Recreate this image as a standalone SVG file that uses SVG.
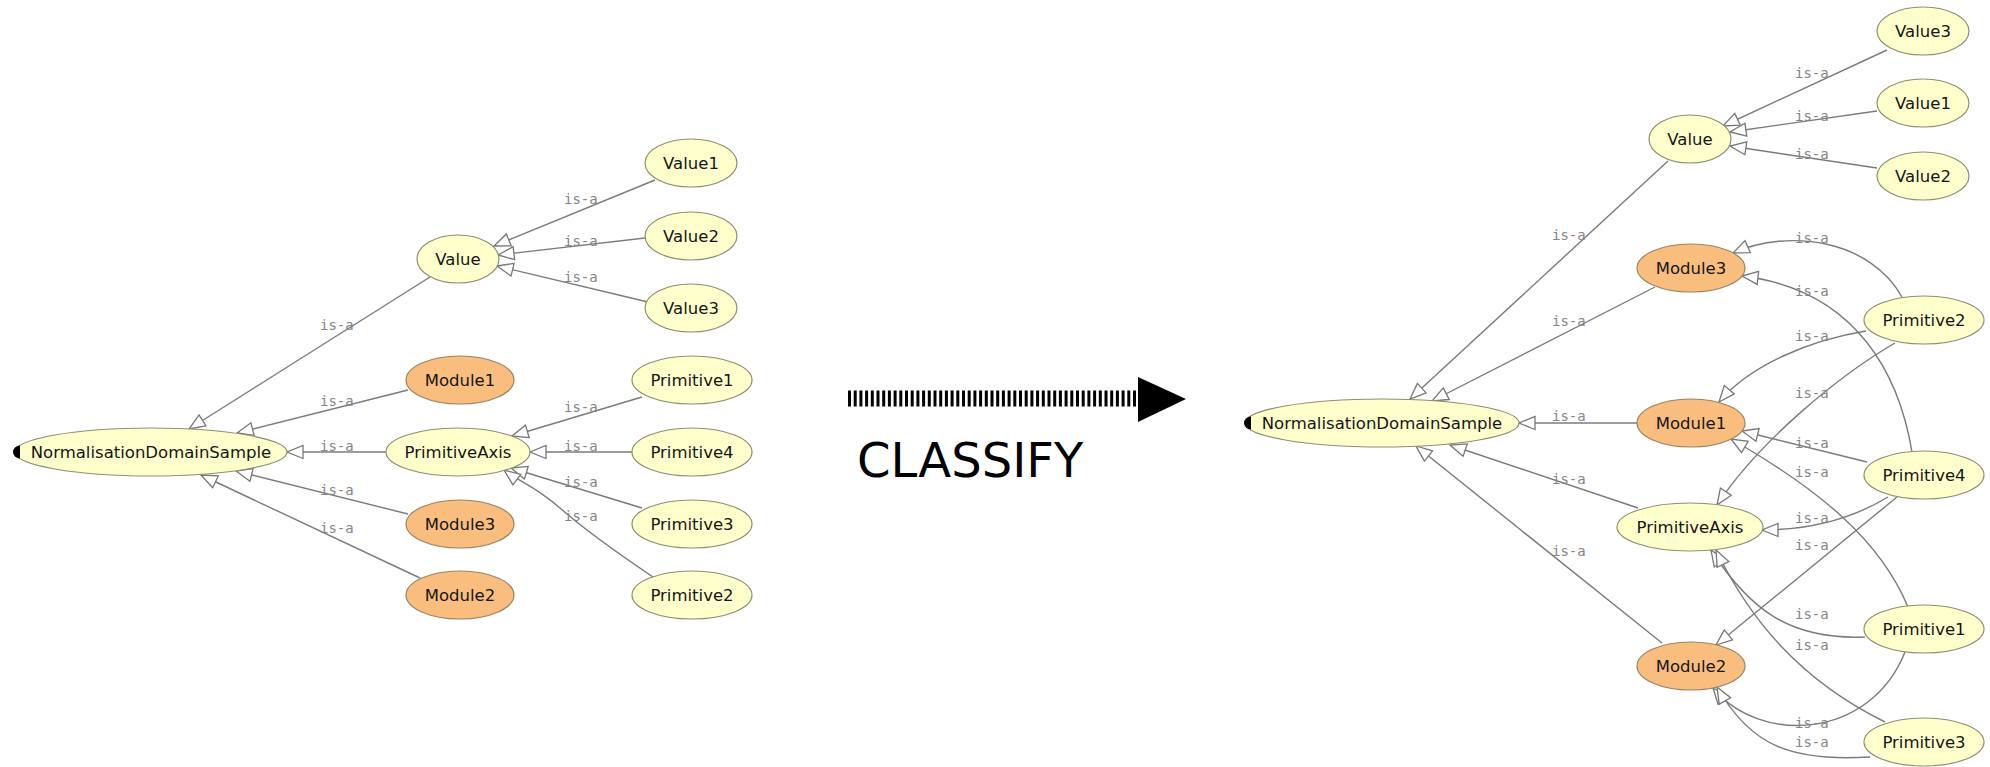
<svg xmlns="http://www.w3.org/2000/svg" width="1990" height="767" viewBox="0 0 1990 767">
  <defs>
    <!-- hollow triangle head used for every is-a edge -->
    <marker id="isa" viewBox="0 0 16 13" refX="16" refY="6.5" markerWidth="16" markerHeight="13" markerUnits="userSpaceOnUse" orient="auto" overflow="visible">
      <path d="M0,0 L16,6.5 L0,13 Z" fill="#ffffff" stroke="#777777" stroke-width="1.3" stroke-linejoin="miter"/>
    </marker>
    <style>
      .edge { fill: none; stroke: #7b7b7b; stroke-width: 1.4; marker-end: url(#isa); }
      .lbl { font-family: "DejaVu Sans Mono", "Liberation Mono", monospace; font-size: 14px; fill: #858585; }
      .c ellipse { fill: #ffffcc; stroke: #8e8e72; stroke-width: 1.2; }
      .o ellipse { fill: #f9be7d; stroke: #9a8466; stroke-width: 1.2; }
      .node text { font-family: "DejaVu Sans", "Liberation Sans", sans-serif; font-size: 16.5px; fill: #151515; text-anchor: middle; }
      .knob { fill: #000000; }
      .big { font-family: "DejaVu Sans", "Liberation Sans", sans-serif; font-size: 48px; fill: #000000; }
    </style>
  </defs>

  <rect x="0" y="0" width="1990" height="767" fill="#ffffff"/>

  <!-- ===== connectors ===== -->
  <g id="connectors">
    <!-- hierarchy before classification -->
    <path class="edge" d="M430,277 L189,429"/>
    <path class="edge" d="M408,390 L237,433"/>
    <path class="edge" d="M386,452 L287,452"/>
    <path class="edge" d="M408,514 L236,471"/>
    <path class="edge" d="M420,578 L201,475"/>
    <path class="edge" d="M655,180 L494,246"/>
    <path class="edge" d="M645,238 L498,255"/>
    <path class="edge" d="M648,302 L497,266"/>
    <path class="edge" d="M642,397 L512,436"/>
    <path class="edge" d="M632,452 L530,452"/>
    <path class="edge" d="M642,508 L511,468"/>
    <path class="edge" d="M653,577 C610,548 585,530 560,508 S520,482 504,470"/>

    <!-- inferred hierarchy -->
    <path class="edge" d="M1668,161 L1410,399"/>
    <path class="edge" d="M1655,287 L1432,401"/>
    <path class="edge" d="M1637,423 L1519,423"/>
    <path class="edge" d="M1638,508 L1450,445"/>
    <path class="edge" d="M1662,643 L1416,446"/>
    <path class="edge" d="M1887,50 L1723,126"/>
    <path class="edge" d="M1877,111 L1730,132"/>
    <path class="edge" d="M1877,168 L1730,146"/>
    <path class="edge" d="M1902,297 C1870,240 1790,228 1733,253"/>
    <path class="edge" d="M1912,452 C1900,380 1860,290 1742,276"/>
    <path class="edge" d="M1866,331 C1810,340 1750,365 1719,402"/>
    <path class="edge" d="M1895,343 C1840,375 1760,440 1717,505"/>
    <path class="edge" d="M1867,462 L1742,431"/>
    <path class="edge" d="M1908,607 C1880,540 1820,490 1731,439"/>
    <path class="edge" d="M1888,497 C1850,520 1810,530 1762,530"/>
    <path class="edge" d="M1897,497 L1716,645"/>
    <path class="edge" d="M1865,637 C1790,640 1750,610 1711,550"/>
    <path class="edge" d="M1885,722 C1800,680 1750,620 1716,550"/>
    <path class="edge" d="M1905,652 C1870,740 1760,745 1713,688"/>
    <path class="edge" d="M1870,757 C1790,762 1750,745 1717,687"/>

    <!-- edge labels -->
    <g class="lbl">
      <text x="320" y="330">is-a</text>
      <text x="320" y="406">is-a</text>
      <text x="320" y="451">is-a</text>
      <text x="320" y="495">is-a</text>
      <text x="320" y="533">is-a</text>
      <text x="564" y="204">is-a</text>
      <text x="564" y="246">is-a</text>
      <text x="564" y="282">is-a</text>
      <text x="564" y="412">is-a</text>
      <text x="564" y="451">is-a</text>
      <text x="564" y="487">is-a</text>
      <text x="564" y="521">is-a</text>

      <text x="1552" y="240">is-a</text>
      <text x="1552" y="326">is-a</text>
      <text x="1552" y="421">is-a</text>
      <text x="1552" y="484">is-a</text>
      <text x="1552" y="556">is-a</text>
      <text x="1795" y="78">is-a</text>
      <text x="1795" y="121">is-a</text>
      <text x="1795" y="159">is-a</text>
      <text x="1795" y="243">is-a</text>
      <text x="1795" y="296">is-a</text>
      <text x="1795" y="341">is-a</text>
      <text x="1795" y="398">is-a</text>
      <text x="1795" y="448">is-a</text>
      <text x="1795" y="477">is-a</text>
      <text x="1795" y="523">is-a</text>
      <text x="1795" y="550">is-a</text>
      <text x="1795" y="619">is-a</text>
      <text x="1795" y="650">is-a</text>
      <text x="1795" y="728">is-a</text>
      <text x="1795" y="747">is-a</text>
    </g>
  </g>

  <!-- ===== classes, asserted ===== -->
  <g id="l-nds" class="node c">
    <ellipse cx="151" cy="452" rx="136" ry="24"/>
    <path class="knob" d="M20,445.5 A7,6.5 0 0 0 20,458.5 Z"/>
    <text x="151" y="458">NormalisationDomainSample</text>
  </g>
  <g id="l-value" class="node c">
    <ellipse cx="458" cy="259" rx="41" ry="24"/>
    <text x="458" y="265">Value</text>
  </g>
  <g id="l-value1" class="node c">
    <ellipse cx="691" cy="163" rx="46" ry="24"/>
    <text x="691" y="169">Value1</text>
  </g>
  <g id="l-value2" class="node c">
    <ellipse cx="691" cy="236" rx="46" ry="24"/>
    <text x="691" y="242">Value2</text>
  </g>
  <g id="l-value3" class="node c">
    <ellipse cx="691" cy="308" rx="46" ry="24"/>
    <text x="691" y="314">Value3</text>
  </g>
  <g id="l-module1" class="node o">
    <ellipse cx="460" cy="380" rx="54" ry="24"/>
    <text x="460" y="386">Module1</text>
  </g>
  <g id="l-primitiveaxis" class="node c">
    <ellipse cx="458" cy="452" rx="72" ry="24"/>
    <text x="458" y="458">PrimitiveAxis</text>
  </g>
  <g id="l-module3" class="node o">
    <ellipse cx="460" cy="524" rx="54" ry="24"/>
    <text x="460" y="530">Module3</text>
  </g>
  <g id="l-module2" class="node o">
    <ellipse cx="460" cy="595" rx="54" ry="24"/>
    <text x="460" y="601">Module2</text>
  </g>
  <g id="l-primitive1" class="node c">
    <ellipse cx="692" cy="380" rx="60" ry="24"/>
    <text x="692" y="386">Primitive1</text>
  </g>
  <g id="l-primitive4" class="node c">
    <ellipse cx="692" cy="452" rx="60" ry="24"/>
    <text x="692" y="458">Primitive4</text>
  </g>
  <g id="l-primitive3" class="node c">
    <ellipse cx="692" cy="524" rx="60" ry="24"/>
    <text x="692" y="530">Primitive3</text>
  </g>
  <g id="l-primitive2" class="node c">
    <ellipse cx="692" cy="595" rx="60" ry="24"/>
    <text x="692" y="601">Primitive2</text>
  </g>

  <!-- ===== classify step ===== -->
  <g id="classify">
    <line x1="848" y1="398.5" x2="1140" y2="398.5" stroke="#000000" stroke-width="16" stroke-dasharray="3 2.7"/>
    <polygon points="1138,377 1186,399 1138,422" fill="#000000"/>
    <text class="big" x="857" y="477">CLASSIFY</text>
  </g>

  <!-- ===== classes, inferred ===== -->
  <g id="r-nds" class="node c">
    <ellipse cx="1382" cy="423" rx="137" ry="24"/>
    <path class="knob" d="M1251,416.5 A7,6.5 0 0 0 1251,429.5 Z"/>
    <text x="1382" y="429">NormalisationDomainSample</text>
  </g>
  <g id="r-value" class="node c">
    <ellipse cx="1690" cy="139" rx="41" ry="24"/>
    <text x="1690" y="145">Value</text>
  </g>
  <g id="r-value3" class="node c">
    <ellipse cx="1923" cy="31" rx="46" ry="24"/>
    <text x="1923" y="37">Value3</text>
  </g>
  <g id="r-value1" class="node c">
    <ellipse cx="1923" cy="103" rx="46" ry="24"/>
    <text x="1923" y="109">Value1</text>
  </g>
  <g id="r-value2" class="node c">
    <ellipse cx="1923" cy="176" rx="46" ry="24"/>
    <text x="1923" y="182">Value2</text>
  </g>
  <g id="r-module3" class="node o">
    <ellipse cx="1691" cy="268" rx="54" ry="24"/>
    <text x="1691" y="274">Module3</text>
  </g>
  <g id="r-module1" class="node o">
    <ellipse cx="1691" cy="423" rx="54" ry="24"/>
    <text x="1691" y="429">Module1</text>
  </g>
  <g id="r-primitiveaxis" class="node c">
    <ellipse cx="1690" cy="527" rx="73" ry="24"/>
    <text x="1690" y="533">PrimitiveAxis</text>
  </g>
  <g id="r-module2" class="node o">
    <ellipse cx="1691" cy="666" rx="54" ry="24"/>
    <text x="1691" y="672">Module2</text>
  </g>
  <g id="r-primitive2" class="node c">
    <ellipse cx="1924" cy="320" rx="60" ry="24"/>
    <text x="1924" y="326">Primitive2</text>
  </g>
  <g id="r-primitive4" class="node c">
    <ellipse cx="1924" cy="475" rx="60" ry="24"/>
    <text x="1924" y="481">Primitive4</text>
  </g>
  <g id="r-primitive1" class="node c">
    <ellipse cx="1924" cy="629" rx="60" ry="24"/>
    <text x="1924" y="635">Primitive1</text>
  </g>
  <g id="r-primitive3" class="node c">
    <ellipse cx="1924" cy="742" rx="60" ry="24"/>
    <text x="1924" y="748">Primitive3</text>
  </g>
</svg>
